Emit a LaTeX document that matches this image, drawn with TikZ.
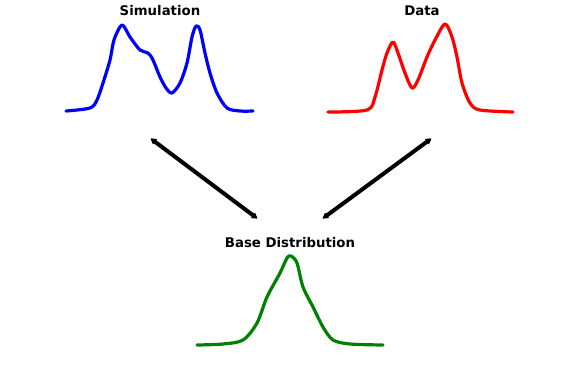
\documentclass[tikz,border=0pt]{standalone}
\usepackage{fontspec}
\setmainfont{DejaVu Sans}
\usetikzlibrary{arrows.meta, positioning}

\begin{document}
\begin{tikzpicture}[
    x=1pt, y=-1pt,
    title/.style={font=\bfseries\fontsize{13.3}{15}\selectfont, inner sep=0pt},
    curve/.style={line width=3.2pt, line join=round, line cap=round},
    arrow/.style={line width=4pt, {Stealth[length=7pt, width=8pt, round]}-{Stealth[length=7pt, width=8pt, round]}, shorten <=1pt, shorten >=1pt}
]
\useasboundingbox (0,0) rectangle (581,388);
% titles
\node[title] (sim) at (160,11) {Simulation};
\node[title] (data) at (422,11) {Data};
\node[title] (base) at (290,243) {Base Distribution};
% curves
\draw[curve, blue] plot[smooth, tension=0.5] coordinates {(66,111) (90,108) (97,100) (103,83) (110,60) (114,40) (122,25) (130,37) (140,50) (148,53) (153,60) (160,77) (166,88) (172,93) (180,83) (187,63) (192,37) (196,26) (200,30) (205,53) (210,73) (217,93) (227,108) (240,111) (253,111)};
\draw[curve, red] plot[smooth, tension=0.5] coordinates {(328,112) (367,110) (375,97) (382,70) (387,53) (393,42) (398,53) (405,73) (412,88) (418,80) (427,57) (435,40) (445,24) (452,37) (457,57) (462,83) (470,103) (480,110) (513,112)};
\draw[curve, green!50!black] plot[smooth, tension=0.5] coordinates {(197,345) (223,344) (243,340) (257,323) (267,297) (280,273) (287,258) (291,256) (297,263) (303,287) (313,307) (323,327) (333,340) (350,344) (383,345)};
% arrow ends
\coordinate (simend) at (150,138);
\coordinate (dataend) at (432,138);
\coordinate (baseleft) at (258,219);
\coordinate (baseright) at (322,219);
\draw[arrow] (simend) -- (baseleft);
\draw[arrow] (dataend) -- (baseright);
\end{tikzpicture}
\end{document}
